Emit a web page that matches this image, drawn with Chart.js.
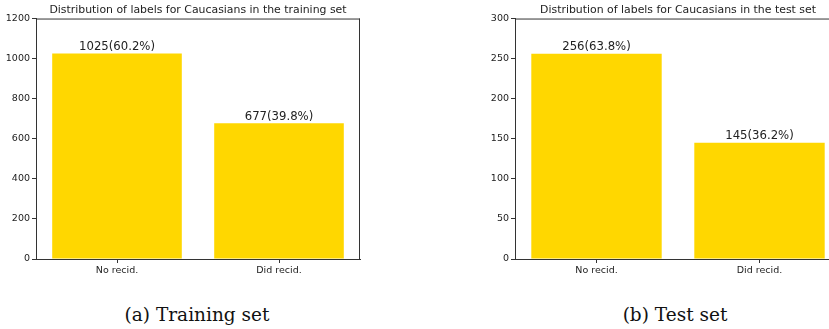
<!DOCTYPE html>
<html>
<head>
<meta charset="utf-8">
<script src="https://cdn.jsdelivr.net/npm/chart.js@4/dist/chart.umd.min.js"></script>
<style>
  html, body { margin: 0; padding: 0; background: #fff; overflow: hidden; width: 829px; height: 329px; }
  .panel { position: absolute; top: 0; }
  .caption {
    position: absolute; top: 304px; width: 300px; text-align: center;
    font-family: "DejaVu Serif", "Liberation Serif", serif; font-size: 18.5px; color: #111;
    white-space: nowrap; line-height: 22px;
  }
</style>
</head>
<body>
<div class="panel" style="left:0px;width:400px;height:290px;"><canvas id="train" width="400" height="290"></canvas></div>
<div class="panel" style="left:420px;width:440px;height:290px;"><canvas id="test" width="440" height="290"></canvas></div>
<div class="caption" style="left:47px;">(a) Training set</div>
<div class="caption" style="left:525px;">(b) Test set</div>
<script>
// Label categories shared by both panels
const categories = ["No recid.", "Did recid."];

// Counts of each label among Caucasians
const trainCounts = [1025, 677];
const testCounts = [256, 145];

// Y-axis ranges and steps
const trainTicks = { max: 1200, step: 200 };
const testTicks = { max: 300, step: 50 };

const trainTitle = "Distribution of labels for Caucasians in the training set";
const testTitle = "Distribution of labels for Caucasians in the test set";

const BAR_COLOR = "#FFD700";
const SPINE = "#333333";
const TEXT = "#222222";
const FONT = "'DejaVu Sans', sans-serif";

// Writes "count(percent%)" above each bar
const valueLabels = {
  id: "valueLabels",
  afterDatasetsDraw(chart) {
    const ctx = chart.ctx;
    const data = chart.data.datasets[0].data;
    const total = data.reduce((a, b) => a + b, 0);
    const meta = chart.getDatasetMeta(0);
    ctx.save();
    ctx.font = "11.7px " + FONT;
    ctx.fillStyle = TEXT;
    ctx.textAlign = "center";
    ctx.textBaseline = "bottom";
    meta.data.forEach((bar, i) => {
      const pct = (data[i] / total * 100).toFixed(1);
      ctx.fillText(data[i] + "(" + pct + "%)", bar.x, bar.y - 0.5);
    });
    ctx.restore();
  }
};

// Top and right frame lines around the plotting area
const frame = {
  id: "frame",
  afterDraw(chart) {
    const a = chart.chartArea;
    const ctx = chart.ctx;
    ctx.save();
    ctx.strokeStyle = SPINE;
    ctx.lineWidth = 1;
    ctx.beginPath();
    ctx.moveTo(a.left, a.top + 0.5);
    ctx.lineTo(a.right, a.top + 0.5);
    ctx.moveTo(a.right - 0.5, a.top);
    ctx.lineTo(a.right - 0.5, a.bottom);
    ctx.stroke();
    ctx.restore();
  }
};

function makeChart(id, counts, ticks, title, yWidth, padRight) {
  return new Chart(document.getElementById(id), {
    type: "bar",
    data: {
      labels: categories,
      datasets: [{
        data: counts,
        backgroundColor: BAR_COLOR,
        borderWidth: 0,
        barPercentage: 0.8,
        categoryPercentage: 1.0
      }]
    },
    options: {
      responsive: false,
      animation: false,
      devicePixelRatio: 1,
      layout: { padding: { left: 0, right: padRight, top: 0, bottom: 0 } },
      plugins: {
        legend: { display: false },
        tooltip: { enabled: false },
        title: {
          display: true,
          text: title,
          fullSize: false,
          color: TEXT,
          font: { family: FONT, size: 10.9, weight: "normal", lineHeight: 1.15 },
          padding: { top: 4, bottom: 2 }
        }
      },
      scales: {
        x: {
          offset: true,
          grid: { display: true, drawOnChartArea: false, drawTicks: true, tickLength: 4, color: SPINE, offset: false },
          border: { display: true, color: SPINE, width: 1 },
          ticks: { color: TEXT, font: { family: FONT, size: 9.5 }, padding: 2, maxRotation: 0 },
          afterFit(s) { s.height = 31; }
        },
        y: {
          min: 0,
          max: ticks.max,
          grid: { display: true, drawOnChartArea: false, drawTicks: true, tickLength: 4, color: SPINE },
          border: { display: true, color: SPINE, width: 1 },
          ticks: {
            stepSize: ticks.step, color: TEXT, font: { family: FONT, size: 9.5 }, padding: 2,
            callback: (v) => String(v)
          },
          afterFit(s) { s.width = yWidth; }
        }
      }
    },
    plugins: [valueLabels, frame]
  });
}

makeChart("train", trainCounts, trainTicks, trainTitle, 36, 40);
makeChart("test", testCounts, testTicks, testTitle, 95, 19);
</script>
</body>
</html>
